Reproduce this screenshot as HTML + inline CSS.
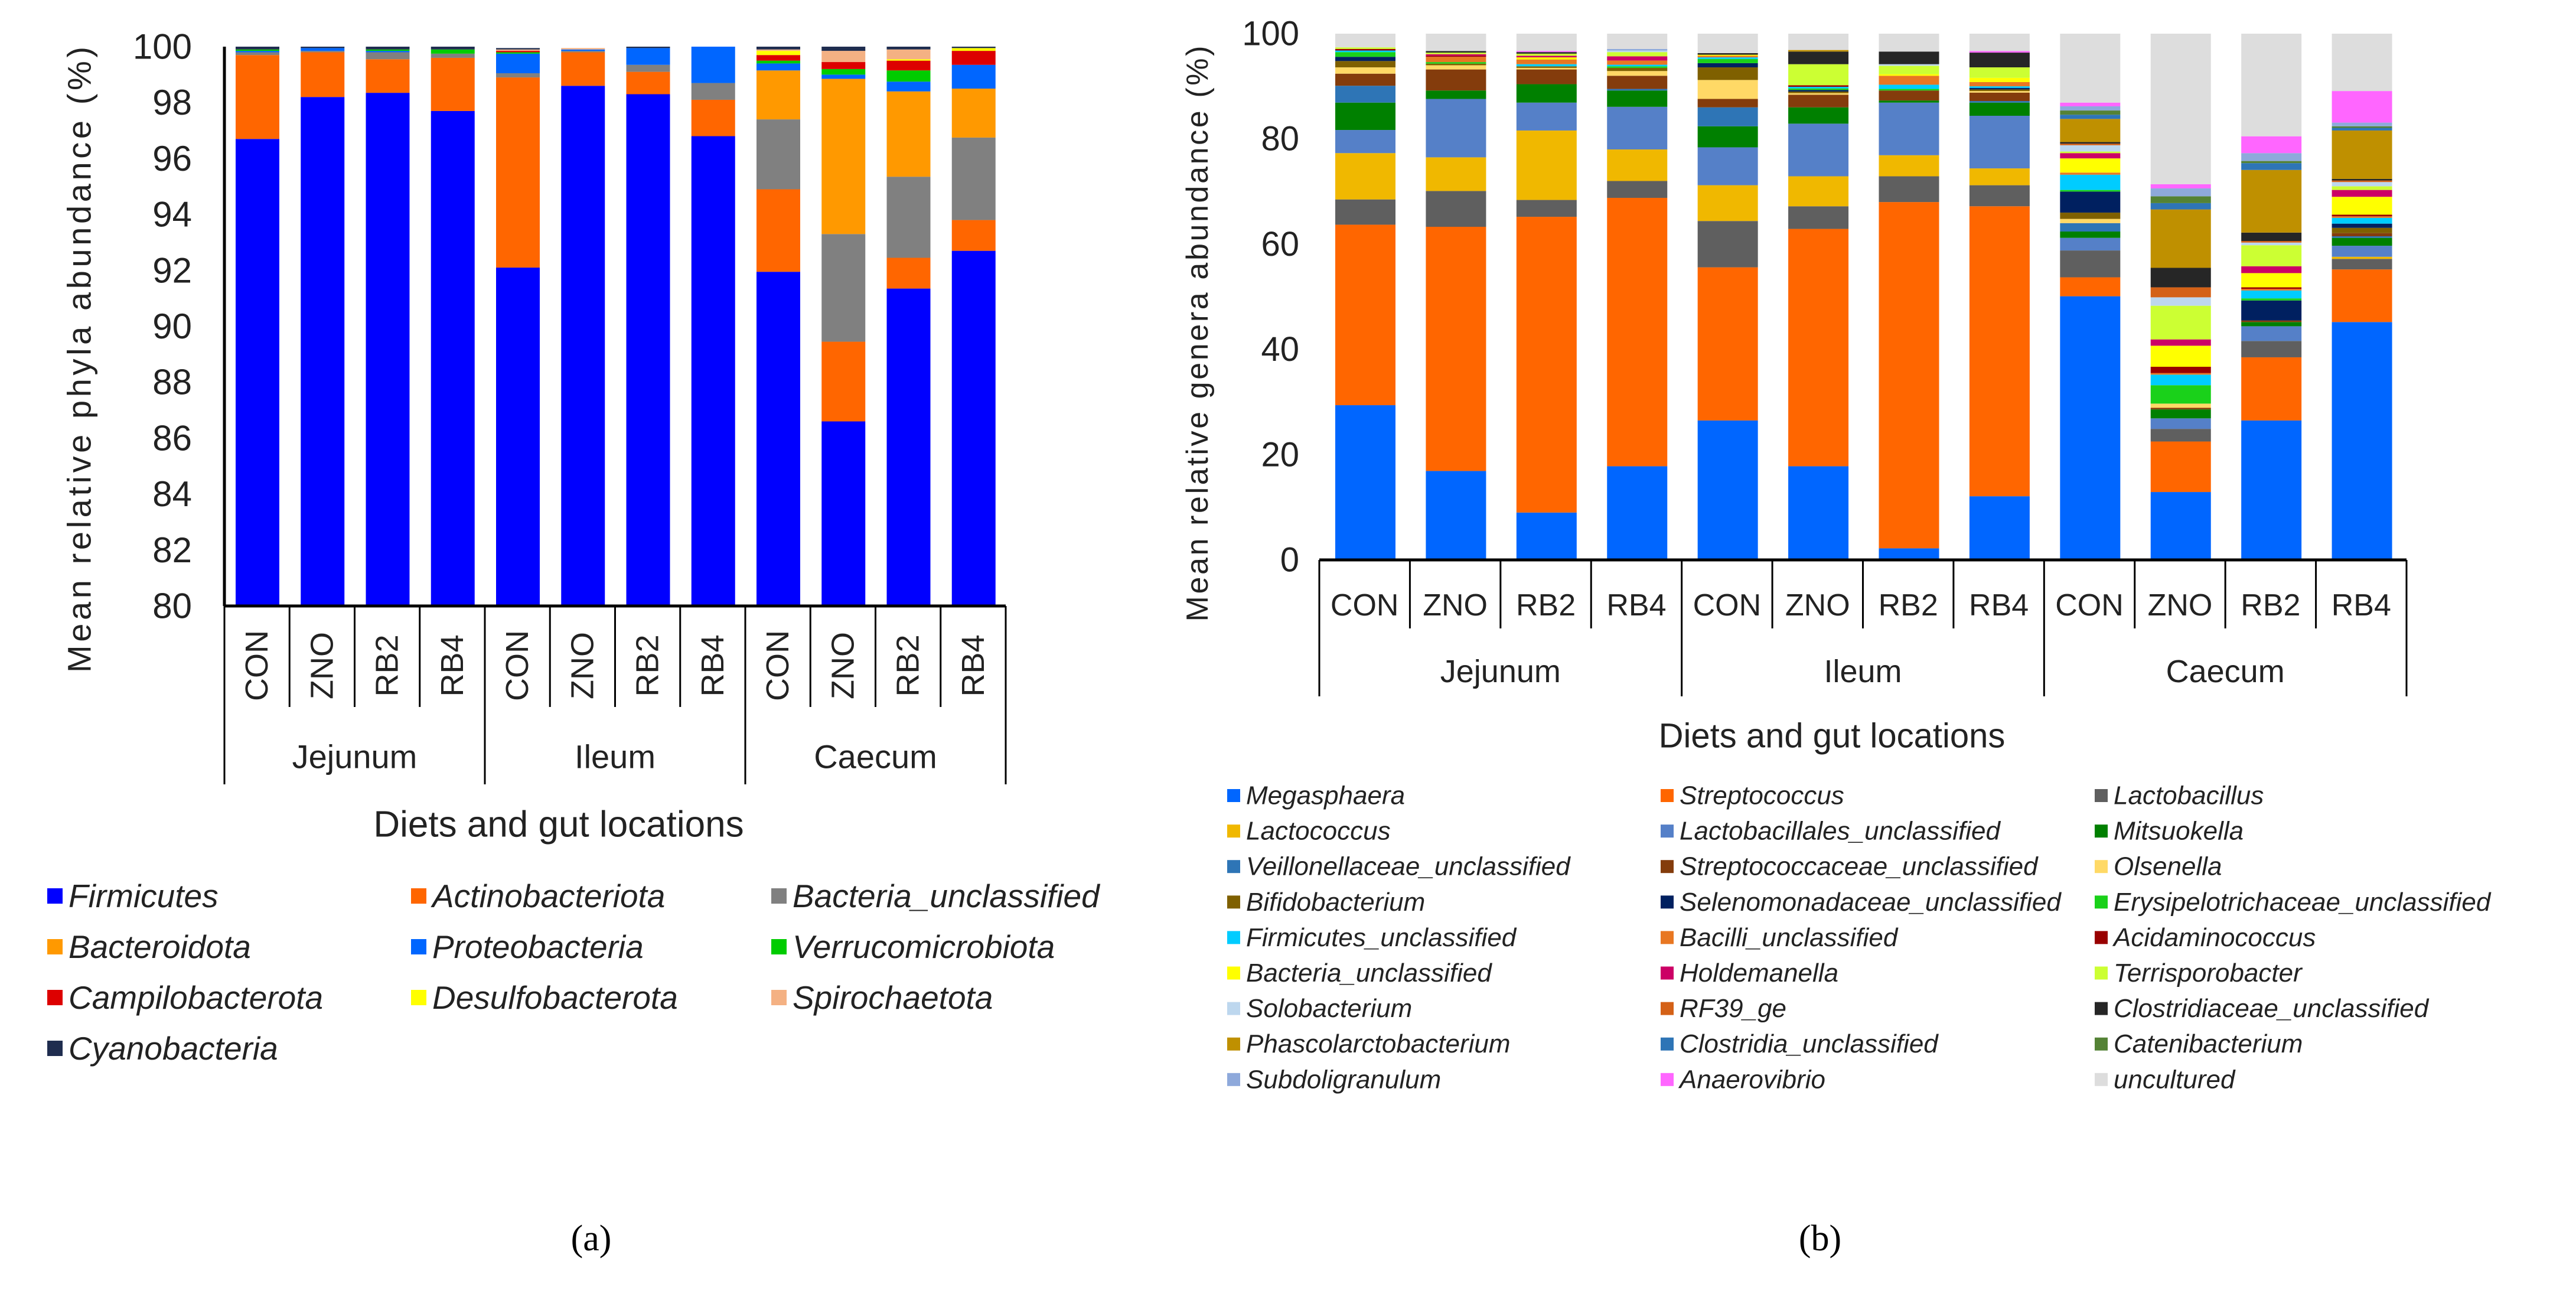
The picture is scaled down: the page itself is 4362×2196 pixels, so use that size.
<!DOCTYPE html>
<html><head><meta charset="utf-8"><style>
html,body{margin:0;padding:0;background:#fff;}
svg{display:block;font-family:"Liberation Sans",sans-serif;}
</style></head>
<body>
<svg id="fig" xmlns="http://www.w3.org/2000/svg" width="4362" height="2196" viewBox="0 0 4362 2196">
<g id="pa"></g>
<g id="pb"></g>
<text x="1001" y="2097" font-family="Liberation Serif, serif" font-size="62" text-anchor="middle" dominant-baseline="central">(a)</text>
<text x="3082" y="2097" font-family="Liberation Serif, serif" font-size="62" text-anchor="middle" dominant-baseline="central">(b)</text>
</svg>
<script>
const diets = ["CON","ZNO","RB2","RB4","CON","ZNO","RB2","RB4","CON","ZNO","RB2","RB4"];
const groups = ["Jejunum","Ileum","Caecum"];
const ticksA = [80,82,84,86,88,90,92,94,96,98,100];
const ticksB = [0,20,40,60,80,100];

const phylaNames = ["Firmicutes","Actinobacteriota","Bacteria_unclassified","Bacteroidota","Proteobacteria","Verrucomicrobiota","Campilobacterota","Desulfobacterota","Spirochaetota","Cyanobacteria"];
const phylaColors = ["#0000FF","#FF6600","#808080","#FF9900","#0066FF","#00CC00","#DD0000","#FFFF00","#F4B183","#1F2D4F"];
const firmicutes = [96.7,98.2,98.35,97.7,92.1,98.6,98.3,96.8,91.95,86.6,91.35,92.7];
const actino = [3.0,1.6,1.2,1.9,6.8,1.2,0.8,1.3,2.95,2.85,1.1,1.1];
const bactUnclA = [0.1,0.05,0.25,0.15,0.15,0.05,0.25,0.6,2.5,3.85,2.9,2.95];
const bacteroidota = [0,0,0,0,0,0,0,0,1.75,5.55,3.05,1.75];
const proteo = [0.05,0.1,0.05,0,0.7,0.05,0.6,1.3,0.25,0.15,0.35,0.85];
const verruco = [0.05,0,0.05,0.15,0.05,0,0,0,0.1,0.2,0.4,0];
const campylo = [0,0,0,0,0.05,0,0,0,0.2,0.25,0.35,0.5];
const desulfo = [0,0,0,0,0,0,0,0,0.15,0,0.05,0.1];
const spiro = [0,0,0,0,0.05,0.05,0,0,0.05,0.4,0.35,0];
const cyano = [0.1,0.05,0.1,0.1,0.05,0,0.05,0.05,0.1,0.15,0.1,0.05];
const phylaSeries = [firmicutes,actino,bactUnclA,bacteroidota,proteo,verruco,campylo,desulfo,spiro,cyano];

const generaNames = ["Megasphaera","Streptococcus","Lactobacillus","Lactococcus","Lactobacillales_unclassified","Mitsuokella","Veillonellaceae_unclassified","Streptococcaceae_unclassified","Olsenella","Bifidobacterium","Selenomonadaceae_unclassified","Erysipelotrichaceae_unclassified","Firmicutes_unclassified","Bacilli_unclassified","Acidaminococcus","Bacteria_unclassified","Holdemanella","Terrisporobacter","Solobacterium","RF39_ge","Clostridiaceae_unclassified","Phascolarctobacterium","Clostridia_unclassified","Catenibacterium","Subdoligranulum","Anaerovibrio","uncultured"];
const generaColors = ["#0066FF","#FF6600","#5F5F5F","#F0B800","#5580C8","#008000","#2E75B6","#843C0C","#FFD966","#7F6000","#002060","#1AD11A","#00CCFF","#E87722","#990000","#FFFF00","#CC0066","#CCFF33","#BDD7EE","#D46117","#262626","#BF9000","#2E75B6","#548235","#8EA9DB","#FF66FF","#DDDDDD"];
const megasphaera = [29.4,16.9,9.0,17.8,26.5,17.8,2.2,12.1,50.1,12.9,26.5,45.2];
const streptococcus = [34.3,46.4,56.2,51.0,29.1,45.1,65.8,55.1,3.6,9.6,12.0,10.0];
const lactobacillus = [4.8,6.8,3.2,3.2,8.8,4.3,4.9,4.0,5.1,2.4,3.1,2.0];
const lactococcus = [8.8,6.4,13.2,6.0,6.8,5.7,4.0,3.2,0,0,0,0.4];
const lactobacillalesU = [4.4,11.1,5.3,8.1,7.2,10.0,10.0,10.0,2.4,2.0,2.8,2.1];
const mitsuokella = [5.2,1.6,3.5,3.1,4.0,3.1,0.4,2.5,1.2,1.7,0.8,1.5];
const veillonellaceaeU = [3.2,0,0,0.3,3.6,0,0,0.3,1.6,0,0,0.3];
const streptococcaceaeU = [2.3,4.0,2.8,2.5,1.6,2.4,1.9,1.6,0,0.3,0.3,0.6];
const olsenella = [1.2,0.8,0.3,0.9,3.6,0.3,0,0.3,0.8,0.8,0,0];
const bifidobacterium = [1.2,0.3,0.3,0.6,2.4,0.3,0,0.3,1.2,0,0,1.0];
const selenomonadaceaeU = [0.8,0,0,0,0.8,0.3,0,0.3,4.0,0,3.8,0.8];
const erysipelotrichaceaeU = [0.9,0.3,0,0.3,0.8,0.3,0.3,0,0.3,3.5,0.4,0];
const firmicutesU = [0.3,0,0.4,0.3,0.3,0.3,0.8,0.3,2.9,2.0,1.5,1.1];
const bacilliU = [0,1.0,0.9,0.8,0.3,0,1.7,0.8,0.4,0.3,0.3,0.3];
const acidaminococcus = [0.3,0.2,0,0,0,0.3,0,0,0,1.2,0.3,0.3];
const bacteriaU = [0,0,0.4,0,0.2,0,0.3,0.8,2.7,4.0,2.7,3.4];
const holdemanella = [0,0.3,0.3,0.8,0,0,0,0,1.0,1.2,1.3,1.3];
const terrisporobacter = [0.3,0.3,0.4,0.8,0,4.0,1.6,2.0,0.3,6.4,4.0,0.7];
const solobacterium = [0,0,0,0.3,0,0,0.3,0,1.2,1.6,0.5,0.8];
const rf39 = [0,0,0,0,0,0,0,0,0.3,1.9,0.3,0.3];
const clostridiaceaeU = [0,0.3,0.3,0,0.3,2.4,2.4,2.8,0.3,3.7,1.6,0.3];
const phascolarctobacterium = [0,0,0,0,0,0.3,0,0,4.4,11.1,11.9,9.2];
const clostridiaU = [0,0,0,0,0,0,0,0,0.8,1.2,1.3,0.5];
const catenibacterium = [0,0,0,0,0,0,0,0,0.8,1.3,0.4,0.3];
const subdoligranulum = [0,0,0,0.3,0,0,0,0,0.8,1.5,1.5,0.7];
const anaerovibrio = [0,0,0.2,0,0,0,0,0.3,0.7,0.8,3.2,6.0];
const uncultured = [2.6,3.3,3.3,2.9,3.7,3.1,3.4,3.3,13.1,28.6,19.5,10.9];
const generaSeries = [megasphaera,streptococcus,lactobacillus,lactococcus,lactobacillalesU,mitsuokella,veillonellaceaeU,streptococcaceaeU,olsenella,bifidobacterium,selenomonadaceaeU,erysipelotrichaceaeU,firmicutesU,bacilliU,acidaminococcus,bacteriaU,holdemanella,terrisporobacter,solobacterium,rf39,clostridiaceaeU,phascolarctobacterium,clostridiaU,catenibacterium,subdoligranulum,anaerovibrio,uncultured];

const NS = "http://www.w3.org/2000/svg";
function mk(parent, tag, attrs, text){
  const e = document.createElementNS(NS, tag);
  for (const k in attrs) e.setAttribute(k, attrs[k]);
  if (text !== undefined) e.textContent = text;
  parent.appendChild(e);
  return e;
}

function drawPanel(g, cfg){
  const {x0, x1, yTop, yBot, vMin, vMax, series, colors, ticks} = cfg;
  const slot = (x1 - x0) / diets.length;
  const yS = v => yBot - (Math.max(vMin, Math.min(vMax, v)) - vMin) / (vMax - vMin) * (yBot - yTop);
  for (let i = 0; i < diets.length; i++){
    let cum = 0;
    const bx = x0 + i * slot + cfg.barOff;
    for (let s = 0; s < series.length; s++){
      const v = series[s][i];
      const y1 = yS(cum), y2 = yS(cum + v);
      cum += v;
      if (y1 - y2 <= 0) continue;
      const r = mk(g, "rect", {x: bx, y: y2, width: cfg.barW, height: y1 - y2, fill: colors[s]});
      
      
    }
  }
  if (cfg.yAxisLine){
    const l = mk(g, "line", {x1: x0, y1: yTop, x2: x0, y2: yBot, stroke: "#000", "stroke-width": 5});
    
    
  }
  ticks.forEach(t => {
    const tx = mk(g, "text", {x: cfg.tickX, y: yS(t), "font-size": cfg.tickFont, "text-anchor": "end", "dominant-baseline": "central", fill: "#222"}, String(t));
    
    
  });
  const xl = mk(g, "line", {x1: x0, y1: yBot, x2: x1, y2: yBot, stroke: "#000", "stroke-width": 5});
  
  
  for (let i = 0; i <= diets.length; i++){
    const lx = x0 + i * slot;
    const major = i % 4 === 0;
    const sl = mk(g, "line", {x1: lx, y1: yBot, x2: lx, y2: major ? cfg.sepMajor : cfg.sepMinor, stroke: "#000", "stroke-width": 3});
    
    
  }
  diets.forEach((d, i) => {
    const cx = x0 + (i + 0.5) * slot;
    let t;
    if (cfg.rotate){
      t = mk(g, "text", {x: 0, y: 0, transform: `translate(${cx},${cfg.catY}) rotate(-90)`, "font-size": cfg.catFont, "text-anchor": "middle", "dominant-baseline": "central", fill: "#222"}, d);
    } else {
      t = mk(g, "text", {x: cx, y: cfg.catY, "font-size": cfg.catFont, "text-anchor": "middle", "dominant-baseline": "central", fill: "#222"}, d);
    }
    
    
  });
  groups.forEach((gname, k) => {
    const t = mk(g, "text", {x: x0 + (k * 4 + 2) * slot, y: cfg.groupY, "font-size": cfg.catFont + 2, "text-anchor": "middle", "dominant-baseline": "central", fill: "#222"}, gname);
    
    
  });
  const xt = mk(g, "text", {x: cfg.xTitleX, y: cfg.xTitleY, "font-size": cfg.titleFont, "text-anchor": "middle", "dominant-baseline": "central", fill: "#222"}, "Diets and gut locations");
  
  
  const yt = mk(g, "text", {x: 0, y: 0, transform: `translate(${cfg.yTitleX},${cfg.yTitleY}) rotate(-90)`, "font-size": cfg.yTitleFont, "text-anchor": "middle", "dominant-baseline": "central", fill: "#222", textLength: cfg.yTitleLen, lengthAdjust: "spacing"}, cfg.yTitle);
  
  
  cfg.names.forEach((n, i) => {
    const col = i % 3, row = Math.floor(i / 3);
    const lx = cfg.legX[col], ly = cfg.legY0 + row * cfg.legDy;
    const lg = mk(g, "g", {});
    
    
    mk(lg, "rect", {x: lx, y: ly - cfg.legSq / 2, width: cfg.legSq, height: cfg.legSq, fill: colors[i]});
    mk(lg, "text", {x: lx + cfg.legSq + 10, y: ly, "font-size": cfg.legFont, "font-style": "italic", "dominant-baseline": "central", fill: "#222"}, n);
  });
}

drawPanel(document.getElementById("pa"), {
  x0: 380, x1: 1703, yTop: 79, yBot: 1026, vMin: 80, vMax: 100,
  series: phylaSeries, colors: phylaColors, ticks: ticksA, barOff: 19, barW: 74,
  yAxisLine: true, tickX: 325, tickFont: 60,
  sepMajor: 1328, sepMinor: 1197, rotate: true, catY: 1127, catFont: 54, groupY: 1281,
  xTitleX: 946, xTitleY: 1396, titleFont: 62,
  yTitleX: 134, yTitleY: 609, yTitleFont: 56, yTitleLen: 1060, yTitle: "Mean relative  phyla abundance (%)",
  names: phylaNames, legX: [80, 696, 1306], legY0: 1517, legDy: 86, legSq: 26, legFont: 55
});
drawPanel(document.getElementById("pb"), {
  x0: 2234, x1: 4075, yTop: 57, yBot: 948, vMin: 0, vMax: 100,
  series: generaSeries, colors: generaColors, ticks: ticksB, barOff: 27, barW: 102,
  yAxisLine: false, tickX: 2200, tickFont: 58,
  sepMajor: 1179, sepMinor: 1064, rotate: false, catY: 1025, catFont: 52, groupY: 1137,
  xTitleX: 3102, xTitleY: 1246, titleFont: 58,
  yTitleX: 2028, yTitleY: 565, yTitleFont: 52, yTitleLen: 975, yTitle: "Mean relative  genera abundance (%)",
  names: generaNames, legX: [2078, 2812, 3547], legY0: 1347, legDy: 60.1, legSq: 22, legFont: 44
});
</script>
</body></html>
